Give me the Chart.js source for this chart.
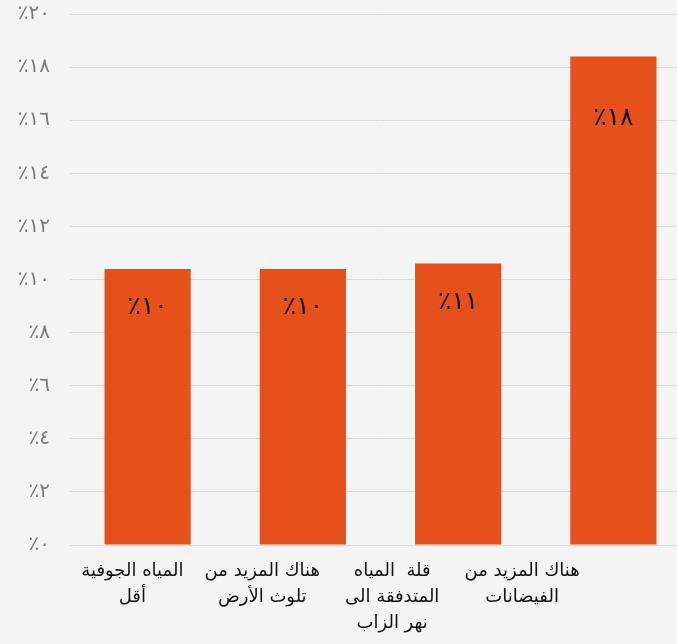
<!DOCTYPE html>
<html>
<head>
<meta charset="utf-8">
<script src="https://cdn.jsdelivr.net/npm/chart.js@4.4.0/dist/chart.umd.min.js"></script>
<style>
  html, body { margin: 0; padding: 0; background: #f4f4f4; overflow: hidden; }
  #wrap { position: relative; width: 691px; height: 644px; }
</style>
</head>
<body>
<div id="wrap"><canvas id="chart"></canvas></div>
<script>
const categories = [
  ['المياه الجوفية', 'أقل'],
  ['هناك المزيد من', 'تلوث الأرض'],
  ['قلة  المياه', 'المتدفقة الى', 'نهر الزاب'],
  ['هناك المزيد من', 'الفيضانات']
];
const values = [10.4, 10.4, 10.6, 18.4];
const yTicks = [0, 2, 4, 6, 8, 10, 12, 14, 16, 18, 20];

const arabicDigits = '٠١٢٣٤٥٦٧٨٩';
function toArabic(n) {
  return String(n).replace(/[0-9]/g, d => arabicDigits[d]);
}
function pct(n) {
  return '٪' + toArabic(n);
}

// value labels inside the bars, near the top
const barLabels = {
  id: 'barLabels',
  afterDatasetsDraw(chart) {
    const ctx = chart.ctx;
    const meta = chart.getDatasetMeta(0);
    ctx.save();
    ctx.font = '25px "DejaVu Sans"';
    ctx.fillStyle = '#111111';
    ctx.textAlign = 'center';
    ctx.textBaseline = 'middle';
    meta.data.forEach((bar, i) => {
      const h = bar.base - bar.y;
      ctx.fillText(pct(Math.round(values[i])), bar.x, bar.y + 9 + 0.108 * h);
    });
    ctx.restore();
  }
};

const ctx = document.getElementById('chart').getContext('2d');
new Chart(ctx, {
  type: 'bar',
  data: {
    labels: categories,
    datasets: [{
      data: values,
      backgroundColor: '#e6501b',
      borderWidth: 0,
      barPercentage: 0.555,
      categoryPercentage: 1
    }]
  },
  options: {
    responsive: true,
    maintainAspectRatio: false,
    animation: false,
    plugins: {
      legend: { display: false },
      tooltip: { enabled: false }
    },
    scales: {
      x: {
        grid: { display: false },
        border: { display: false },
        ticks: { display: false },
        afterFit(scale) { scale.height = 0; }
      },
      // category names sit on their own axis, spaced a bit tighter than the bars
      names: {
        type: 'linear',
        position: 'bottom',
        bounds: 'data',
        offset: false,
        afterDataLimits(scale) { scale.min = -0.48; scale.max = 4.3; },
        afterBuildTicks(scale) { scale.ticks = [0, 1, 2, 3].map(v => ({ value: v })); },
        grid: { display: false, offset: false },
        border: { display: true, color: '#d9d9d9', width: 1 },
        ticks: {
          color: '#111111',
          padding: 5,
          maxRotation: 0,
          autoSkip: false,
          font: { family: '"DejaVu Sans"', size: 18, lineHeight: 1.45 },
          callback: v => categories[v]
        },
        afterFit(scale) { scale.height = 99; }
      },
      y: {
        min: 0,
        max: 20,
        afterBuildTicks(scale) { scale.ticks = yTicks.map(v => ({ value: v })); },
        grid: { color: '#d9d9d9', drawTicks: true, tickLength: 18, tickColor: 'rgba(0,0,0,0)' },
        border: { display: false },
        ticks: {
          color: '#7a7a7a',
          padding: 2,
          font: { family: '"DejaVu Sans"', size: 20 },
          callback: v => pct(v)
        },
        afterFit(scale) { scale.width = 70; }
      }
    }
  },
  plugins: [barLabels]
});
</script>
</body>
</html>
